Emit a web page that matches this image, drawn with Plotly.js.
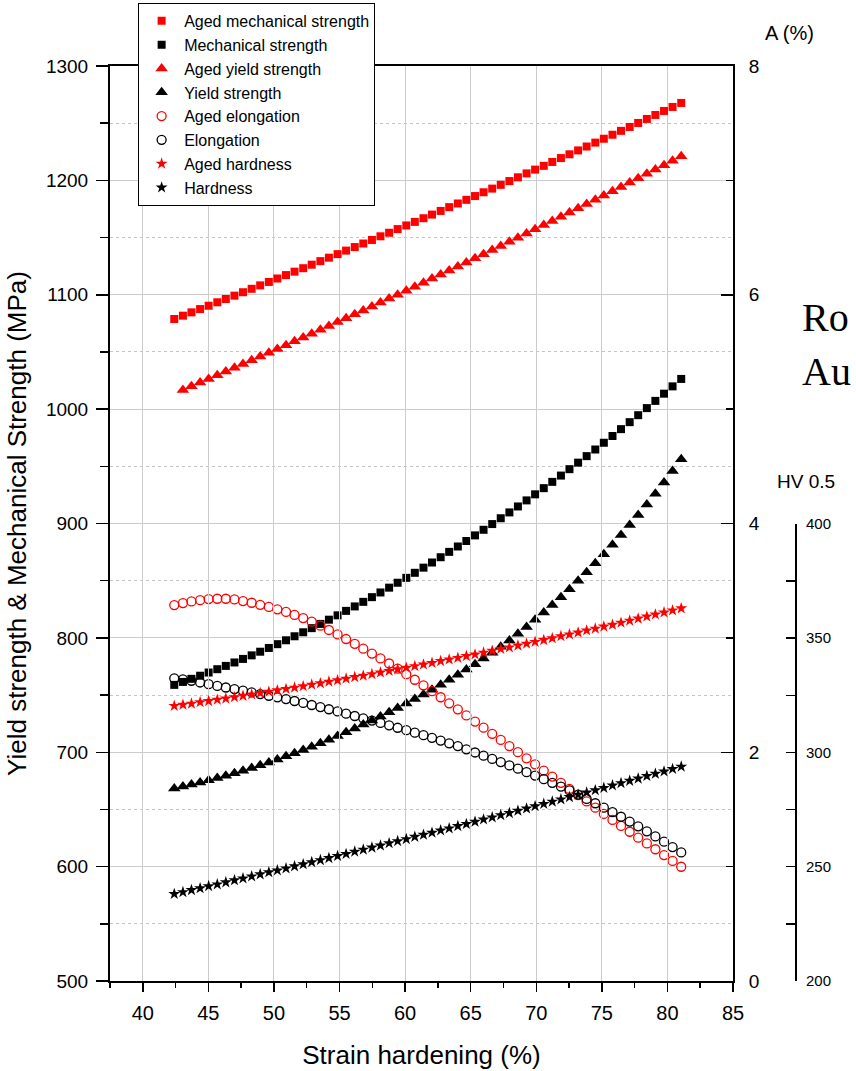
<!DOCTYPE html>
<html>
<head>
<meta charset="utf-8">
<script src="https://cdn.plot.ly/plotly-3.0.1.min.js"></script>
<style>
  html, body { margin: 0; padding: 0; background: #fff; }
  #chart { width: 856px; height: 1071px; }
</style>
</head>
<body>
<div id="chart"></div>
<script>
// Strain hardening (%) at each measurement
const strain = [42.40, 43.06, 43.71, 44.37, 45.02, 45.68, 46.33, 46.99, 47.64, 48.30,
  48.95, 49.61, 50.26, 50.92, 51.57, 52.23, 52.88, 53.54, 54.19, 54.85,
  55.50, 56.16, 56.81, 57.47, 58.12, 58.78, 59.43, 60.09, 60.74, 61.40,
  62.05, 62.71, 63.36, 64.02, 64.67, 65.33, 65.98, 66.64, 67.29, 67.95,
  68.60, 69.26, 69.91, 70.57, 71.22, 71.88, 72.53, 73.19, 73.84, 74.50,
  75.15, 75.81, 76.46, 77.12, 77.77, 78.43, 79.08, 79.74, 80.39, 81.05];

// Mechanical strength, MPa
const agedMechStrength = [1078.8, 1081.7, 1084.6, 1087.5, 1090.4, 1093.4, 1096.3, 1099.2, 1102.2, 1105.2,
  1108.2, 1111.2, 1114.2, 1117.2, 1120.2, 1123.2, 1126.3, 1129.4, 1132.4, 1135.5,
  1138.6, 1141.7, 1144.8, 1147.9, 1151.1, 1154.2, 1157.4, 1160.6, 1163.7, 1166.9,
  1170.1, 1173.3, 1176.6, 1179.8, 1183.0, 1186.3, 1189.6, 1192.8, 1196.1, 1199.4,
  1202.7, 1206.1, 1209.4, 1212.7, 1216.1, 1219.5, 1222.8, 1226.2, 1229.6, 1233.0,
  1236.4, 1239.9, 1243.3, 1246.7, 1250.2, 1253.7, 1257.2, 1260.7, 1264.2, 1267.7];
const mechStrength = [758.9, 761.5, 764.2, 766.9, 769.7, 772.6, 775.5, 778.5, 781.6, 784.7,
  787.9, 791.2, 794.5, 797.9, 801.4, 804.9, 808.5, 812.2, 815.9, 819.7,
  823.6, 827.5, 831.5, 835.6, 839.7, 843.9, 848.2, 852.5, 856.9, 861.4,
  865.9, 870.5, 875.2, 879.9, 884.7, 889.6, 894.5, 899.5, 904.6, 909.7,
  914.9, 920.2, 925.5, 930.9, 936.4, 941.9, 947.5, 953.2, 958.9, 964.7,
  970.6, 976.5, 982.5, 988.6, 994.7, 1000.9, 1007.2, 1013.5, 1019.9, 1026.4];

// Yield strength, MPa (aged series starts at the second strain level)
const agedYieldStrength = [1016.8, 1020.0, 1023.2, 1026.4, 1029.7, 1032.9, 1036.2, 1039.4, 1042.7,
  1046.0, 1049.3, 1052.6, 1055.9, 1059.3, 1062.6, 1066.0, 1069.3, 1072.7, 1076.1,
  1079.5, 1082.9, 1086.3, 1089.8, 1093.2, 1096.7, 1100.1, 1103.6, 1107.1, 1110.6,
  1114.1, 1117.7, 1121.2, 1124.8, 1128.3, 1131.9, 1135.5, 1139.1, 1142.7, 1146.3,
  1149.9, 1153.6, 1157.2, 1160.9, 1164.5, 1168.2, 1171.9, 1175.6, 1179.3, 1183.1,
  1186.8, 1190.6, 1194.3, 1198.1, 1201.9, 1205.7, 1209.5, 1213.3, 1217.2, 1221.0];
const yieldStrength = [668.4, 670.0, 671.8, 673.6, 675.5, 677.5, 679.5, 681.7, 683.9, 686.2,
  688.6, 691.1, 693.7, 696.4, 699.1, 702.0, 704.9, 707.9, 711.0, 714.2,
  717.4, 720.8, 724.2, 727.7, 731.2, 734.9, 738.7, 742.6, 746.5, 750.5,
  754.6, 759.0, 763.4, 767.8, 772.3, 777.0, 781.9, 787.0, 792.3, 797.8,
  803.6, 809.6, 815.8, 822.2, 828.8, 835.6, 842.6, 849.9, 857.4, 865.2,
  873.2, 881.4, 889.9, 898.6, 907.5, 916.7, 926.1, 935.8, 945.8, 956.2];

// Elongation A, %
const agedElongation = [3.287, 3.304, 3.319, 3.330, 3.339, 3.342, 3.342, 3.336, 3.322, 3.307,
  3.289, 3.271, 3.250, 3.227, 3.201, 3.173, 3.142, 3.107, 3.069, 3.030,
  2.990, 2.948, 2.906, 2.863, 2.820, 2.776, 2.731, 2.683, 2.634, 2.585,
  2.534, 2.481, 2.428, 2.375, 2.322, 2.268, 2.215, 2.161, 2.108, 2.054,
  2.001, 1.947, 1.894, 1.840, 1.787, 1.733, 1.679, 1.626, 1.570, 1.515,
  1.461, 1.408, 1.356, 1.305, 1.253, 1.203, 1.152, 1.101, 1.050, 0.999];
const elongation = [2.646, 2.637, 2.625, 2.610, 2.595, 2.580, 2.566, 2.552, 2.538, 2.523,
  2.509, 2.494, 2.480, 2.465, 2.448, 2.431, 2.413, 2.395, 2.376, 2.357,
  2.337, 2.317, 2.297, 2.277, 2.256, 2.235, 2.214, 2.193, 2.171, 2.149,
  2.126, 2.102, 2.078, 2.054, 2.026, 1.998, 1.970, 1.942, 1.914, 1.885,
  1.856, 1.826, 1.796, 1.765, 1.733, 1.700, 1.666, 1.630, 1.592, 1.554,
  1.515, 1.476, 1.436, 1.394, 1.352, 1.309, 1.264, 1.218, 1.171, 1.124];

// Vickers hardness, HV 0.5
const agedHardness = [320.4, 320.9, 321.4, 322.0, 322.5, 323.1, 323.6, 324.2, 324.8, 325.4,
  326.0, 326.6, 327.2, 327.8, 328.4, 329.0, 329.7, 330.3, 331.0, 331.6,
  332.3, 333.0, 333.6, 334.3, 335.0, 335.7, 336.4, 337.1, 337.8, 338.5,
  339.2, 340.0, 340.7, 341.4, 342.2, 342.9, 343.7, 344.5, 345.3, 346.0,
  346.8, 347.6, 348.4, 349.2, 350.0, 350.9, 351.7, 352.5, 353.4, 354.2,
  355.1, 355.9, 356.8, 357.7, 358.6, 359.5, 360.4, 361.3, 362.2, 363.1];
const hardness = [238.1, 238.9, 239.8, 240.6, 241.5, 242.3, 243.2, 244.1, 244.9, 245.8,
  246.7, 247.6, 248.4, 249.3, 250.2, 251.1, 252.0, 252.9, 253.8, 254.7,
  255.6, 256.6, 257.5, 258.4, 259.3, 260.3, 261.2, 262.1, 263.1, 264.0,
  264.9, 265.9, 266.8, 267.8, 268.7, 269.7, 270.7, 271.6, 272.6, 273.5,
  274.5, 275.5, 276.5, 277.5, 278.5, 279.5, 280.5, 281.5, 282.5, 283.5,
  284.5, 285.6, 286.6, 287.6, 288.6, 289.7, 290.7, 291.7, 292.8, 293.8];

const RED = '#ff0000';
const BLACK = '#000000';
const FONT = 'Liberation Sans, Arial, Helvetica, sans-serif';

function series(name, x, y, axis, symbol, color, size, open) {
  return {
    type: 'scatter', mode: 'markers', name: name, x: x, y: y, yaxis: axis,
    marker: open
      ? { symbol: symbol, size: size, color: color, line: { color: color, width: 1.3 } }
      : { symbol: symbol, size: size, color: color, line: { width: 0 } }
  };
}

const traces = [
  series('Aged mechanical strength', strain, agedMechStrength, 'y', 'square', RED, 8),
  series('Mechanical strength', strain, mechStrength, 'y', 'square', BLACK, 8),
  series('Aged yield strength', strain.slice(1), agedYieldStrength, 'y', 'triangle-up', RED, 11),
  series('Yield strength', strain, yieldStrength, 'y', 'triangle-up', BLACK, 11),
  series('Aged elongation', strain, agedElongation, 'y2', 'circle-open', RED, 9, true),
  series('Elongation', strain, elongation, 'y2', 'circle-open', BLACK, 9, true),
  series('Aged hardness', strain, agedHardness, 'y3', 'star', RED, 9),
  series('Hardness', strain, hardness, 'y3', 'star', BLACK, 9)
];

const GRID = '#cccccc';

const layout = {
  width: 856, height: 1071,
  margin: { l: 110, r: 60, t: 66, b: 90, pad: 0, autoexpand: false },
  paper_bgcolor: '#ffffff',
  plot_bgcolor: 'rgba(0,0,0,0)',
  font: { family: FONT, color: '#000', size: 18 },
  showlegend: true,
  legend: {
    x: 0.041, y: 1.0689, xanchor: 'left', yanchor: 'top',
    bgcolor: '#ffffff', bordercolor: '#000', borderwidth: 1,
    font: { family: FONT, size: 16, color: '#000' },
    itemwidth: 35, tracegroupgap: 0
  },
  xaxis: {
    domain: [0, 0.9082], range: [37.5, 85],
    tick0: 40, dtick: 5,
    ticks: 'outside', ticklen: 9, tickwidth: 1.5, tickcolor: '#000',
    showline: true, linewidth: 2, linecolor: '#000', mirror: true,
    showgrid: true, gridcolor: GRID, gridwidth: 1, zeroline: false,
    minor: { tick0: 0, dtick: 2.5, ticks: 'outside', ticklen: 5, tickwidth: 1.5, tickcolor: '#000', showgrid: false },
    tickfont: { family: FONT, size: 20 },
    ticklabelstandoff: 4,
    title: { text: 'Strain hardening (%)', font: { family: FONT, size: 26 }, standoff: 23 }
  },
  yaxis: {
    range: [500, 1300], tick0: 500, dtick: 100,
    ticks: 'outside', ticklen: 12, tickwidth: 1.5, tickcolor: '#000',
    showline: true, linewidth: 2, linecolor: '#000',
    showgrid: true, gridcolor: GRID, gridwidth: 1, zeroline: false,
    minor: { tick0: 0, dtick: 50, ticks: 'outside', ticklen: 8, tickwidth: 1.5, tickcolor: '#000',
      showgrid: true, gridcolor: '#c4c4c4', griddash: 'dot', gridwidth: 1 },
    tickfont: { family: FONT, size: 19 },
    ticklabelstandoff: 4,
    title: { text: 'Yield strength & Mechanical Strength (MPa)', font: { family: FONT, size: 26 }, standoff: 12 }
  },
  yaxis2: {
    overlaying: 'y', side: 'right', anchor: 'x',
    range: [0, 8], tickvals: [0, 2, 4, 6, 8],
    ticks: 'inside', ticklen: 12, tickwidth: 1.5, tickcolor: '#000',
    showline: true, linewidth: 2, linecolor: '#000',
    showgrid: false, zeroline: false,
    minor: { tickvals: [1, 3, 5, 7], ticks: 'inside', ticklen: 7, tickwidth: 1.5, tickcolor: '#000', showgrid: false },
    tickfont: { family: FONT, size: 19 },
    ticklabelstandoff: 10
  },
  yaxis3: {
    domain: [0, 0.4995], anchor: 'free', position: 1, side: 'right',
    range: [200, 400], tick0: 200, dtick: 50,
    ticks: 'inside', ticklen: 9, tickwidth: 1.5, tickcolor: '#000',
    showline: true, linewidth: 2, linecolor: '#000',
    showgrid: false, zeroline: false,
    minor: { tick0: 0, dtick: 25, ticks: 'inside', ticklen: 9, tickwidth: 1.5, tickcolor: '#000', showgrid: false },
    tickfont: { family: FONT, size: 15 },
    ticklabelstandoff: 6
  },
  annotations: [
    { xref: 'paper', yref: 'paper', x: 0.9898, y: 1.036, xanchor: 'center', yanchor: 'middle',
      text: 'A (%)', showarrow: false, font: { family: FONT, size: 20 } },
    { xref: 'paper', yref: 'paper', x: 0.9694, y: 0.5464, xanchor: 'left', yanchor: 'middle',
      text: 'HV 0.5', showarrow: false, font: { family: FONT, size: 19 } },
    { xref: 'paper', yref: 'paper', x: 1.0058, y: 0.7246, xanchor: 'left', yanchor: 'middle',
      text: 'Ro', showarrow: false, font: { family: 'Liberation Serif, Times New Roman, serif', size: 40 } },
    { xref: 'paper', yref: 'paper', x: 1.0058, y: 0.6656, xanchor: 'left', yanchor: 'middle',
      text: 'Au', showarrow: false, font: { family: 'Liberation Serif, Times New Roman, serif', size: 40 } }
  ]
};

Plotly.newPlot('chart', traces, layout, { displayModeBar: false, responsive: false, staticPlot: true });
</script>
</body>
</html>
